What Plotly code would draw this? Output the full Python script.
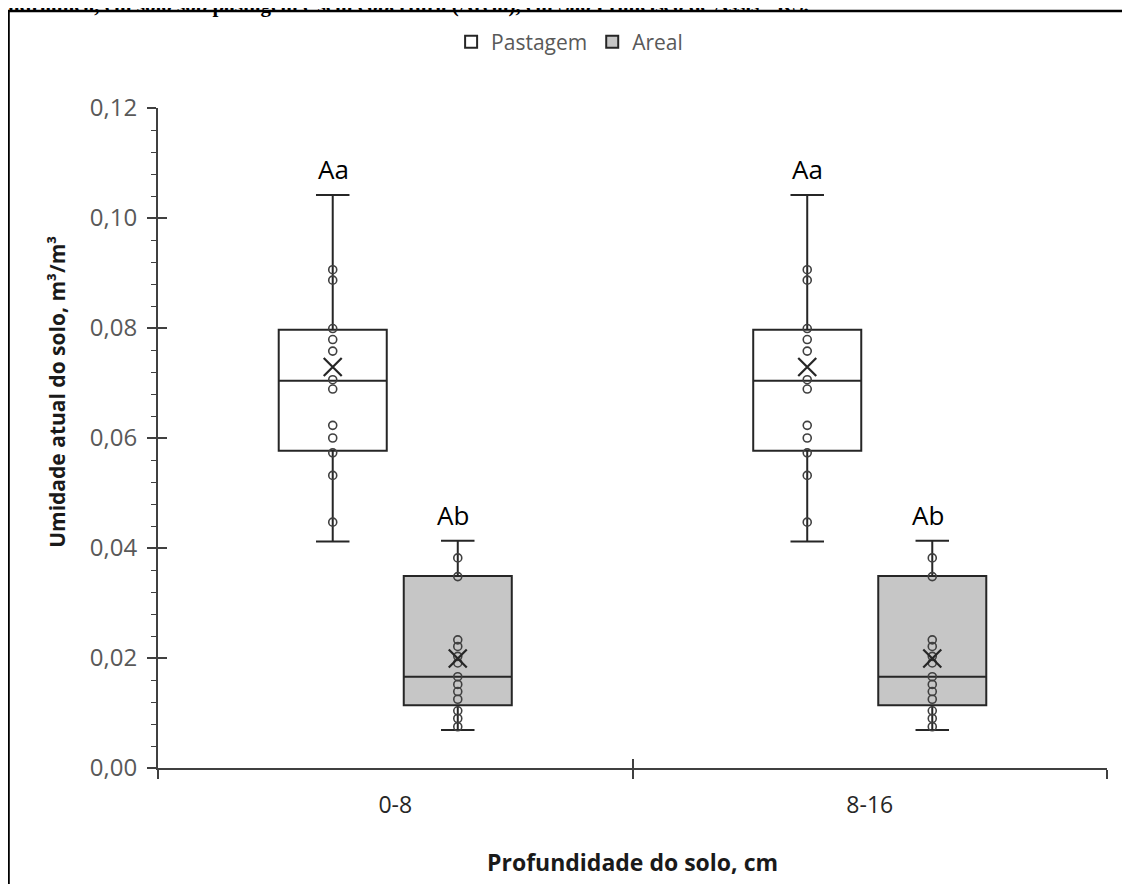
import plotly.graph_objects as go

# ---------------- data ----------------
categories = ["0-8", "8-16"]
series_names = ["Pastagem", "Areal"]

# precomputed box statistics per depth
pastagem_lowerfence = [0.0412, 0.0412]
pastagem_q1 = [0.0577, 0.0577]
pastagem_median = [0.0704, 0.0704]
pastagem_q3 = [0.0797, 0.0797]
pastagem_upperfence = [0.1042, 0.1042]
pastagem_mean = [0.0729, 0.0729]

areal_lowerfence = [0.0069, 0.0069]
areal_q1 = [0.0114, 0.0114]
areal_median = [0.0166, 0.0166]
areal_q3 = [0.0349, 0.0349]
areal_upperfence = [0.0413, 0.0413]
areal_mean = [0.0199, 0.0199]

# inner points (same for both depths)
pastagem_points = [0.0906, 0.0887, 0.0799, 0.0779, 0.0758, 0.0706, 0.0689,
                   0.0623, 0.0600, 0.0573, 0.0532, 0.0447]
areal_points = [0.0382, 0.0348, 0.0233, 0.0221, 0.0203, 0.0191, 0.0166,
                0.0152, 0.0139, 0.0125, 0.0104, 0.0090, 0.0075]

significance_pastagem = ["Aa", "Aa"]
significance_areal = ["Ab", "Ab"]

y_ticks = [0.00, 0.02, 0.04, 0.06, 0.08, 0.10, 0.12]

# ---------------- styles ----------------
DARK = "#262626"
PT = "#404040"
FONT = "Open Sans"
fig = go.Figure()

# boxes from precomputed stats
fig.add_trace(go.Box(
    name=series_names[0], x=categories, q1=pastagem_q1, median=pastagem_median,
    q3=pastagem_q3, lowerfence=pastagem_lowerfence, upperfence=pastagem_upperfence,
    offsetgroup="p", fillcolor="white", line=dict(color=DARK, width=2),
    whiskerwidth=0.31, boxpoints=False, hoverinfo="skip", showlegend=True))
fig.add_trace(go.Box(
    name=series_names[1], x=categories, q1=areal_q1, median=areal_median,
    q3=areal_q3, lowerfence=areal_lowerfence, upperfence=areal_upperfence,
    offsetgroup="a", fillcolor="#c6c6c6", line=dict(color=DARK, width=2),
    whiskerwidth=0.31, boxpoints=False, hoverinfo="skip", showlegend=True))

# inner points (box traces with invisible box, aligned via offsetgroup)
pt_marker = dict(symbol="circle-open", size=8, color=PT, line=dict(width=1.6, color=PT))
for grp, pts in (("p", pastagem_points), ("a", areal_points)):
    xs, ys = [], []
    for c in categories:
        xs += [c] * len(pts)
        ys += pts
    fig.add_trace(go.Box(
        x=xs, y=ys, offsetgroup=grp, boxpoints="all", jitter=0, pointpos=0,
        fillcolor="rgba(0,0,0,0)", line=dict(width=0, color="rgba(0,0,0,0)"),
        marker=pt_marker, showlegend=False, hoverinfo="skip"))

# mean markers
mean_marker = dict(symbol="x-thin-open", size=18, color=DARK, line=dict(width=2.2, color=DARK))
for grp, means in (("p", pastagem_mean), ("a", areal_mean)):
    fig.add_trace(go.Box(
        x=categories, y=means, offsetgroup=grp, boxpoints="all", jitter=0, pointpos=0,
        fillcolor="rgba(0,0,0,0)", line=dict(width=0, color="rgba(0,0,0,0)"),
        marker=mean_marker, showlegend=False, hoverinfo="skip"))

# dummy trace for overlay axes (crossing ticks)
fig.add_trace(go.Scatter(x=[], y=[], xaxis="x2", yaxis="y2", showlegend=False, hoverinfo="skip"))

# significance letters
annotations = []
for i, c in enumerate(categories):
    annotations.append(dict(x=c, y=pastagem_upperfence[i], xref="x", yref="y",
                            text=significance_pastagem[i], showarrow=False,
                            yanchor="bottom", yshift=6, xshift=-62,
                            font=dict(family=FONT, size=26, color="black")))
    annotations.append(dict(x=c, y=areal_upperfence[i], xref="x", yref="y",
                            text=significance_areal[i], showarrow=False,
                            yanchor="bottom", yshift=6, xshift=58,
                            font=dict(family=FONT, size=26, color="black")))

# clipped caption at the top of the page
annotations.append(dict(
    xref="paper", yref="paper", x=-0.1665, y=1.1355, xanchor="left", yanchor="bottom",
    text="<b>hidráulica, em solo sob pastagem e sem cobertura (Areal), em São Francisco de Assis - RS.</b>",
    showarrow=False, font=dict(family="Liberation Serif", size=21, color="black")))

# x axis title
annotations.append(dict(
    xref="paper", yref="paper", x=0.5, y=-0.142, xanchor="center", yanchor="middle",
    text="<b>Profundidade do solo, cm</b>", showarrow=False,
    font=dict(family=FONT, size=23, color="#1a1a1a")))

# y axis title
annotations.append(dict(
    xref="paper", yref="paper", x=-0.1064, y=0.57, xanchor="center", yanchor="middle",
    textangle=-90, text="<b>Umidade atual do solo, m³/m³</b>", showarrow=False,
    font=dict(family=FONT, size=21, color="#1a1a1a")))

fig.update_layout(
    width=1130, height=884,
    margin=dict(l=150, r=31, t=100, b=124, autoexpand=False),
    paper_bgcolor="white", plot_bgcolor="white",
    separators=",.",
    boxmode="group", boxgap=0.473, boxgroupgap=0.136,
    showlegend=True,
    legend=dict(orientation="h", xref="container", yref="container",
                x=0.497, y=0.9615, xanchor="center", yanchor="middle",
                font=dict(family=FONT, size=21, color="#595959"),
                bgcolor="rgba(0,0,0,0)"),
    xaxis=dict(type="category", categoryarray=categories, range=[-0.5, 1.5],
               showline=True, linecolor=PT, linewidth=2, showgrid=False, zeroline=False,
               tickson="boundaries", ticks="outside", ticklen=9, tickwidth=1.5, tickcolor=PT,
               ticklabelstandoff=15,
               tickfont=dict(family=FONT, size=23, color="#262626")),
    yaxis=dict(range=[0, 0.12], tickvals=y_ticks, tickformat=".2f",
               showline=True, linecolor=PT, linewidth=2, showgrid=False, zeroline=False,
               ticks="outside", ticklen=9, tickwidth=1.5, tickcolor=PT,
               ticklabelstandoff=5,
               minor=dict(dtick=0.004, ticks="outside", ticklen=5, tickwidth=1.2, tickcolor=PT),
               tickfont=dict(family=FONT, size=24, color="#595959")),
    xaxis2=dict(overlaying="x", anchor="y2", range=[-0.5, 1.5], tickvals=[-0.5, 0.5, 1.5],
                ticks="inside", ticklen=9, tickwidth=1.5, tickcolor=PT,
                showticklabels=False, showline=False, showgrid=False, zeroline=False),
    yaxis2=dict(overlaying="y", anchor="x2", range=[0, 0.12], tickvals=y_ticks,
                ticks="inside", ticklen=9, tickwidth=1.5, tickcolor=PT,
                showticklabels=False, showline=False, showgrid=False, zeroline=False),
    annotations=annotations,
    shapes=[dict(type="rect", xref="paper", yref="paper", x0=-0.1575, x1=1.04,
                 y0=-0.25, y1=1.147, line=dict(color="black", width=2.5),
                 fillcolor="rgba(0,0,0,0)", layer="below")],
)

fig.write_html("out.html")
